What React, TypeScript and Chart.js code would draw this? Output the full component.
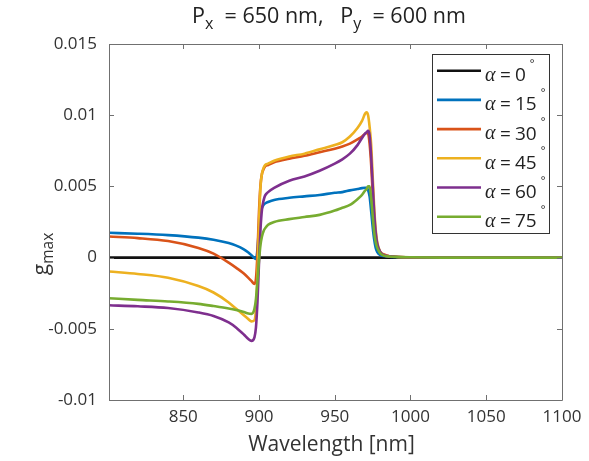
import { useEffect, useRef } from 'react';
import { Chart, registerables } from 'chart.js';

Chart.register(...registerables);

const wavelengths = [801, 820, 840, 860, 870, 880, 885, 890, 893, 895, 897, 898, 899, 900, 901, 902, 903, 904, 906, 910, 920, 930, 940, 950, 955, 960, 965, 968, 970, 971, 972, 973, 974, 975, 976, 977, 978, 980, 983, 986, 990, 1000, 1020, 1050, 1100];

const g0X = [801, 1100];
const g0Y = [0, 0];

const g15 = [0.00174, 0.00168, 0.00158, 0.0014, 0.00125, 0.00102, 0.00084, 0.00058, 0.00036, 0.00017, -0.00005, -0.0001, 0.0006, 0.0021, 0.0031, 0.0035, 0.0037, 0.0038, 0.0039, 0.00405, 0.0042, 0.0043, 0.0044, 0.00455, 0.0046, 0.00472, 0.00482, 0.00488, 0.0049, 0.0049, 0.00475, 0.0043, 0.0033, 0.0022, 0.0013, 0.0007, 0.0004, 0.00018, 0.0001, 0.00006, 0.00004, 0.00002, 0, 0, 0];

const g30 = [0.00148, 0.00137, 0.00116, 0.00068, 0.00028, -0.00035, -0.00072, -0.00112, -0.00142, -0.00164, -0.00185, -0.0015, 0.0003, 0.0032, 0.0051, 0.0059, 0.0062, 0.0064, 0.0065, 0.0067, 0.00695, 0.00715, 0.0074, 0.00765, 0.0078, 0.008, 0.0083, 0.0085, 0.0087, 0.00875, 0.0087, 0.008, 0.0066, 0.0046, 0.0028, 0.0016, 0.0009, 0.0004, 0.0002, 0.0001, 0.00006, 0.00002, 0, 0, 0];

const g45 = [-0.00098, -0.00115, -0.00142, -0.002, -0.00245, -0.00315, -0.0036, -0.00405, -0.00432, -0.00448, -0.0044, -0.0036, -0.0012, 0.0024, 0.005, 0.0059, 0.0063, 0.0065, 0.0066, 0.0068, 0.0071, 0.0073, 0.0076, 0.0079, 0.0081, 0.0085, 0.0091, 0.0096, 0.0101, 0.0102, 0.01, 0.0092, 0.008, 0.0058, 0.0036, 0.002, 0.0011, 0.0004, 0.00015, 0.0001, 0.00006, 0.00002, 0, 0, 0];

const g60 = [-0.00335, -0.00342, -0.00354, -0.00385, -0.0041, -0.00455, -0.00492, -0.0054, -0.00572, -0.00585, -0.0056, -0.0049, -0.0031, -0.0004, 0.002, 0.0034, 0.004, 0.00435, 0.0046, 0.0049, 0.0054, 0.0057, 0.0061, 0.0066, 0.0069, 0.0073, 0.0079, 0.0084, 0.0087, 0.0088, 0.0089, 0.0086, 0.0072, 0.0052, 0.0032, 0.0018, 0.001, 0.0004, 0.00015, 0.0001, 0.00006, 0.00002, 0, 0, 0];

const g75 = [-0.00285, -0.00297, -0.00308, -0.00325, -0.0034, -0.00357, -0.00368, -0.00382, -0.00393, -0.00395, -0.0036, -0.0029, -0.0016, -0.0002, 0.0009, 0.0015, 0.00185, 0.00205, 0.0023, 0.0025, 0.0027, 0.00285, 0.003, 0.0033, 0.0035, 0.0037, 0.0041, 0.0044, 0.0047, 0.0048, 0.005, 0.005, 0.0042, 0.003, 0.0018, 0.0011, 0.0007, 0.0003, 0.00012, 0.00008, 0.00005, 0.00002, 0, 0, 0];

const alphaDegrees = ['0', '15', '30', '45', '60', '75'];
const seriesColors = ['#111111', '#0072BD', '#D95319', '#EDB120', '#7E2F8E', '#77AC30'];

const xTickValues = [850, 900, 950, 1000, 1050, 1100];
const xTickLabels = ['850', '900', '950', '1000', '1050', '1100'];
const yTickValues = [0.015, 0.01, 0.005, 0, -0.005, -0.01];
const yTickLabels = ['0.015', '0.01', '0.005', '0', '-0.005', '-0.01'];

const FONT = '"Open Sans", "Noto Sans", sans-serif';
const TEXT_COLOR = '#333333';

type Part = { text: string; size: number; dy?: number; style?: string; family?: string };

function drawParts(ctx: CanvasRenderingContext2D, parts: Part[], x: number, y: number, align: 'left' | 'center') {
  ctx.textBaseline = 'middle';
  ctx.textAlign = 'left';
  const widths = parts.map((p) => {
    ctx.font = `${p.style || ''} ${p.size}px ${p.family || FONT}`;
    return ctx.measureText(p.text).width;
  });
  const total = widths.reduce((a, b) => a + b, 0);
  let cx = align === 'center' ? x - total / 2 : x;
  parts.forEach((p, i) => {
    ctx.font = `${p.style || ''} ${p.size}px ${p.family || FONT}`;
    ctx.fillText(p.text, cx, y + (p.dy || 0));
    cx += widths[i];
  });
}

const decorPlugin = {
  id: 'decor',
  afterDatasetsDraw(chart: any) {
    const ctx: CanvasRenderingContext2D = chart.ctx;
    const area = chart.chartArea;
    const xs = chart.scales.x;
    const ys = chart.scales.y;
    ctx.save();
    // box
    ctx.strokeStyle = '#707070';
    ctx.lineWidth = 1;
    ctx.beginPath();
    ctx.rect(Math.round(area.left) + 0.5, Math.round(area.top) + 0.5, Math.round(area.right - area.left), Math.round(area.bottom - area.top));
    ctx.stroke();
    // ticks
    const tl = 5;
    ctx.beginPath();
    xTickValues.forEach((v) => {
      const px = Math.round(xs.getPixelForValue(v)) + 0.5;
      ctx.moveTo(px, area.bottom);
      ctx.lineTo(px, area.bottom - tl);
      ctx.moveTo(px, area.top);
      ctx.lineTo(px, area.top + tl);
    });
    yTickValues.forEach((v) => {
      const py = Math.round(ys.getPixelForValue(v)) + 0.5;
      ctx.moveTo(area.left, py);
      ctx.lineTo(area.left + tl, py);
      ctx.moveTo(area.right, py);
      ctx.lineTo(area.right - tl, py);
    });
    ctx.stroke();

    // title
    ctx.fillStyle = '#222222';
    drawParts(ctx, [
      { text: 'P', size: 21.5 },
      { text: 'x', size: 16, dy: 7 },
      { text: '  = 650 nm,   P', size: 21.5 },
      { text: 'y', size: 16, dy: 7 },
      { text: '  = 600 nm', size: 21.5 },
    ], 329, 17, 'center');

    // x label
    ctx.fillStyle = TEXT_COLOR;
    drawParts(ctx, [{ text: 'Wavelength [nm]', size: 21 }], 331.5, 445, 'center');

    // y label
    ctx.save();
    ctx.translate(42, 254);
    ctx.rotate(-Math.PI / 2);
    drawParts(ctx, [
      { text: 'g', size: 21 },
      { text: 'max', size: 15.5, dy: 7 },
    ], 0, 0, 'center');
    ctx.restore();

    // legend
    const lx = 432.5, ly = 54.5, lw = 117, lh = 179;
    ctx.fillStyle = '#ffffff';
    ctx.fillRect(lx, ly, lw, lh);
    ctx.strokeStyle = '#333333';
    ctx.lineWidth = 1;
    ctx.strokeRect(lx, ly, lw, lh);
    alphaDegrees.forEach((deg, i) => {
      const yy = 70.7 + i * 29.2;
      ctx.strokeStyle = seriesColors[i];
      ctx.lineWidth = 2.6;
      ctx.beginPath();
      ctx.moveTo(437, yy);
      ctx.lineTo(481, yy);
      ctx.stroke();
      ctx.fillStyle = '#222222';
      ctx.textBaseline = 'middle';
      ctx.textAlign = 'left';
      ctx.font = `italic 20px "Liberation Serif", "DejaVu Serif", serif`;
      ctx.fillText('α', 485, yy + 5);
      ctx.font = `19px ${FONT}`;
      ctx.fillText('=', 500, yy + 5);
      ctx.fillText(deg, 515, yy + 5);
      const w = ctx.measureText(deg).width;
      ctx.font = `11px ${FONT}`;
      ctx.fillText('°', 515 + w + 4, yy - 7);
    });
    ctx.restore();
  },
};

export default function App() {
  const ref = useRef<HTMLCanvasElement | null>(null);
  useEffect(() => {
    document.body.style.margin = '0';
    const canvas = ref.current;
    if (!canvas) return;
    const seriesY = [g15, g30, g45, g60, g75];
    const datasets: any[] = [
      {
        label: 'α = ' + alphaDegrees[0] + '°',
        data: g0X.map((x, i) => ({ x, y: g0Y[i] })),
        borderColor: seriesColors[0],
        borderWidth: 2.6,
        pointRadius: 0,
        order: 5,
      },
      ...seriesY.map((ys, k) => ({
        label: 'α = ' + alphaDegrees[k + 1] + '°',
        data: wavelengths.map((x, i) => ({ x, y: ys[i] })),
        borderColor: seriesColors[k + 1],
        borderWidth: 2.6,
        pointRadius: 0,
        cubicInterpolationMode: 'monotone',
        order: 4 - k,
      })),
    ];
    const chart = new Chart(canvas, {
      type: 'line',
      data: { datasets },
      options: {
        animation: false,
        responsive: false,
        events: [],
        layout: { padding: { left: 0, right: 27, top: 44, bottom: 0 } },
        plugins: { legend: { display: false }, tooltip: { enabled: false }, title: { display: false } },
        scales: {
          x: {
            type: 'linear',
            min: 801,
            max: 1100,
            grid: { display: false, drawTicks: false },
            border: { display: false },
            afterBuildTicks: (scale: any) => {
              scale.ticks = xTickValues.map((v) => ({ value: v }));
            },
            afterFit: (scale: any) => {
              scale.height = 61;
              scale.paddingLeft = 0;
              scale.paddingRight = 0;
            },
            ticks: {
              padding: 7,
              maxRotation: 0,
              autoSkip: false,
              color: TEXT_COLOR,
              font: { family: FONT, size: 17 },
              callback: (v: any) => {
                const i = xTickValues.indexOf(Number(v));
                return i >= 0 ? xTickLabels[i] : '';
              },
            },
          },
          y: {
            type: 'linear',
            min: -0.01,
            max: 0.015,
            grid: { display: false, drawTicks: false },
            border: { display: false },
            afterBuildTicks: (scale: any) => {
              scale.ticks = yTickValues.map((v) => ({ value: v }));
            },
            afterFit: (scale: any) => {
              scale.width = 109;
              scale.paddingTop = 0;
              scale.paddingBottom = 0;
            },
            ticks: {
              padding: 12,
              autoSkip: false,
              color: TEXT_COLOR,
              font: { family: FONT, size: 17 },
              callback: (v: any) => {
                const i = yTickValues.findIndex((t) => Math.abs(t - Number(v)) < 1e-9);
                return i >= 0 ? yTickLabels[i] : '';
              },
            },
          },
        },
      } as any,
      plugins: [decorPlugin],
    });
    return () => chart.destroy();
  }, []);
  return <canvas ref={ref} width={589} height={461} style={{ display: 'block' }} />;
}
